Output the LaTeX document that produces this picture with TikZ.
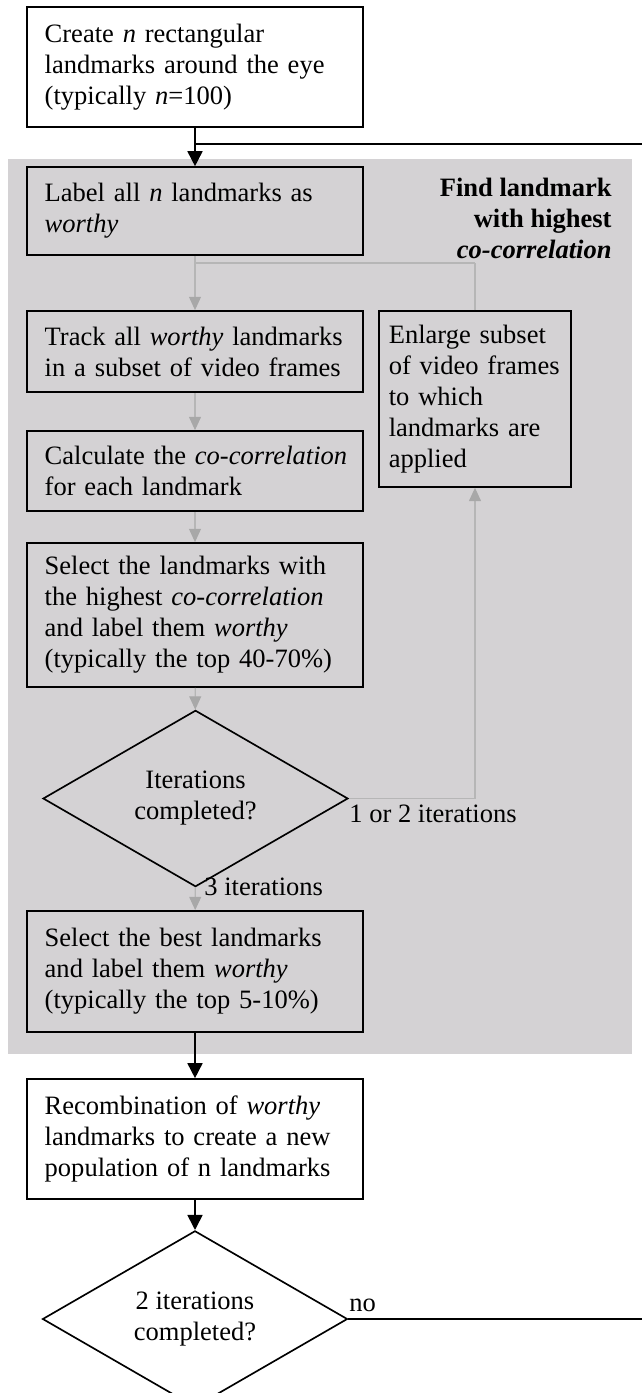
\documentclass[tikz,border=0pt]{standalone}
\usepackage{fontspec}
\setmainfont{Liberation Serif}
\usetikzlibrary{shapes.geometric,arrows.meta}
\definecolor{panelgray}{RGB}{212,210,212}
\definecolor{loopgray}{RGB}{182,182,182}
\definecolor{tipgray}{RGB}{168,168,168}
\tikzstyle{procbox}=[rectangle,draw,line width=0.75pt,text width=136pt,inner xsep=8pt,inner ysep=2pt,align=left,font=\fontsize{12}{14}\selectfont]
\tikzstyle{decision}=[diamond,draw,line width=0.75pt,minimum width=138pt,minimum height=72pt,inner sep=0pt,align=center,font=\fontsize{12}{14}\selectfont]
\tikzstyle{note}=[inner sep=0pt,font=\fontsize{12}{14}\selectfont]
\tikzstyle{mainline}=[draw,line width=0.75pt]
\tikzstyle{mainflow}=[mainline,-{Triangle[length=6.8pt,width=6.8pt]}]
\tikzstyle{loopline}=[draw=loopgray,line width=0.5pt]
\tikzstyle{loopflow}=[loopline,-{Triangle[length=6pt,width=5.4pt,color=tipgray]}]
\newcommand{\procbox}{\node[procbox]}
\newcommand{\decision}{\node[decision]}
\newcommand{\note}{\node[note]}

\begin{document}
\begin{tikzpicture}[x=0.4525pt,y=-0.4525pt]
		\useasboundingbox (0,0) rectangle (642,1393);
		% % % % % % % % % % % % % % % % % % % % % % % % % % % % %
		\fill [panelgray] (8,159) rectangle (632,1054);
		%*********************
		\procbox [minimum height=54.3pt] (create) at (195,67) [] {Create \textit{n} rectangular\\landmarks around the eye\\(typically \textit{n}=100)};
		\coordinate (j1) at (195,144);
		\coordinate (r1) at (642,144);
		%*********************
		\procbox [minimum height=39.8pt] (labelall) at (195,211) [] {Label all \textit{n} landmarks as\\\textit{worthy}};
		\note [anchor=north east,align=right,font=\fontsize{12}{14}\selectfont\bfseries] (title) at (612,178) {Find landmark\\with highest\\\textit{co-correlation}};
		\coordinate (g1) at (195,263);
		\coordinate (g2) at (475,263);
		%*********************
		\procbox [minimum height=36.7pt] (track) at (195,351.5) [] {Track all \textit{worthy} landmarks\\in a subset of video frames};
		\procbox [minimum height=79.6pt,text width=78pt,inner xsep=4.45pt] (enlarge) at (475,399) [] {Enlarge subset\\of video frames\\to which\\landmarks are\\applied};
		\procbox [minimum height=36.2pt] (calc) at (195,471) [] {\mbox{Calculate the \textit{co-correlation}}\\for each landmark};
		\procbox [minimum height=65.2pt] (select) at (195,615) [] {Select the landmarks with\\the highest \textit{co-correlation}\\and label them \textit{worthy}\\(typically the top 40-70\%)};
		%*********************
		\decision (iter) at (195.5,798.5) [] {Iterations\\completed?};
		\coordinate (g3) at (475,798.5);
		\note [anchor=base west] (few) at (349,822) {1 or 2 iterations};
		\note [anchor=base west] (three) at (204,895) {3 iterations};
		%*********************
		\procbox [minimum height=54.8pt] (best) at (195,971.5) [] {Select the best landmarks\\and label them \textit{worthy}\\(typically the top 5-10\%)};
		\procbox [minimum height=54.3pt] (recomb) at (195,1139) [] {Recombination of \textit{worthy}\\landmarks to create a new\\population of n landmarks};
		%*********************
		\decision (iter2) at (195,1319) [] {2 iterations\\completed?};
		\coordinate (r2) at (642,1319);
		\note [anchor=base west] (no) at (349,1311) {no};
		%*********************
		
		\path
		% % % % % % % % % % % % % % % % %
		(create) edge [mainflow] (labelall)
		(j1) edge [mainline] (r1)
		%**************
		(labelall) edge [loopflow] (track)
		(enlarge.north) edge [loopline] (g2)
		(g2) edge [loopline] (g1)
		(track) edge [loopflow] (calc)
		(calc) edge [loopflow] (select)
		(select) edge [loopflow] (iter)
		(iter.east) edge [loopline] (g3)
		(g3) edge [loopflow] (enlarge)
		(iter) edge [loopflow] (best)
		%**************
		(best) edge [mainflow] (recomb)
		(recomb) edge [mainflow] (iter2)
		(iter2.east) edge [mainline] (r2)
		;
\end{tikzpicture}
\end{document}
